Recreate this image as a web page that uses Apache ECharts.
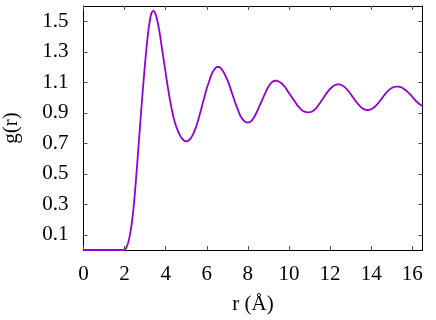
<!DOCTYPE html>
<html>
<head>
<meta charset="utf-8">
<script src="https://cdn.jsdelivr.net/npm/echarts@6/dist/echarts.min.js"></script>
<style>html,body{margin:0;padding:0;background:#fff}#c{width:436px;height:320px}</style>
</head>
<body>
<div id="c"></div>
<script>
var rValues = [0, 1.9, 2.0, 2.1, 2.2, 2.3, 2.4, 2.5, 2.6, 2.7, 2.8, 2.9, 3.0, 3.1, 3.2, 3.3, 3.4, 3.5, 3.6, 3.7, 3.8, 3.9,
  4.0, 4.1, 4.2, 4.3, 4.4, 4.5, 4.6, 4.7, 4.8, 4.9, 5.0, 5.1, 5.2, 5.3, 5.4, 5.5, 5.6, 5.7, 5.8, 5.9,
  6.0, 6.1, 6.2, 6.3, 6.4, 6.5, 6.6, 6.7, 6.8, 6.9, 7.0, 7.1, 7.2, 7.3, 7.4, 7.5, 7.6, 7.7, 7.8, 7.9,
  8.0, 8.1, 8.2, 8.3, 8.4, 8.5, 8.6, 8.7, 8.8, 8.9, 9.0, 9.1, 9.2, 9.3, 9.4, 9.5, 9.6, 9.7, 9.8, 9.9,
  10.0, 10.1, 10.2, 10.3, 10.4, 10.5, 10.6, 10.7, 10.8, 10.9, 11.0, 11.1, 11.2, 11.3, 11.4, 11.5, 11.6, 11.7, 11.8, 11.9,
  12.0, 12.1, 12.2, 12.3, 12.4, 12.5, 12.6, 12.7, 12.8, 12.9, 13.0, 13.1, 13.2, 13.3, 13.4, 13.5, 13.6, 13.7, 13.8, 13.9,
  14.0, 14.1, 14.2, 14.3, 14.4, 14.5, 14.6, 14.7, 14.8, 14.9, 15.0, 15.1, 15.2, 15.3, 15.4, 15.5, 15.6, 15.7, 15.8, 15.9,
  16.0, 16.1, 16.2, 16.3, 16.4, 16.5];
var gValues = [0, 0, 0.0, 0.02, 0.06, 0.13, 0.23, 0.37, 0.54, 0.72, 0.90, 1.07, 1.23, 1.37, 1.48, 1.55, 1.57, 1.55, 1.50, 1.43, 1.34, 1.25,
  1.16, 1.07, 0.99, 0.92, 0.86, 0.815, 0.78, 0.75, 0.73, 0.717, 0.713, 0.717, 0.73, 0.75, 0.78, 0.815, 0.86, 0.91, 0.96, 1.01,
  1.06, 1.10, 1.14, 1.17, 1.19, 1.20, 1.20, 1.19, 1.17, 1.145, 1.115, 1.08, 1.04, 1.0, 0.96, 0.925, 0.89, 0.865, 0.848, 0.838,
  0.836, 0.84, 0.85, 0.87, 0.895, 0.925, 0.955, 0.985, 1.015, 1.045, 1.07, 1.09, 1.103, 1.11, 1.11, 1.105, 1.097, 1.085, 1.07, 1.05,
  1.03, 1.01, 0.99, 0.97, 0.95, 0.935, 0.92, 0.91, 0.905, 0.903, 0.903, 0.907, 0.915, 0.927, 0.943, 0.962, 0.982, 1.002, 1.022, 1.04,
  1.056, 1.069, 1.079, 1.085, 1.087, 1.085, 1.079, 1.07, 1.057, 1.041, 1.023, 1.004, 0.985, 0.967, 0.951, 0.937, 0.927, 0.92, 0.918, 0.919,
  0.923, 0.931, 0.942, 0.956, 0.972, 0.99, 1.008, 1.025, 1.04, 1.053, 1.062, 1.068, 1.071, 1.071, 1.069, 1.064, 1.056, 1.046, 1.034, 1.02,
  1.005, 0.99, 0.975, 0.962, 0.952, 0.944];
var xTicks = [0, 2, 4, 6, 8, 10, 12, 14, 16];
var yTicks = [0.1, 0.3, 0.5, 0.7, 0.9, 1.1, 1.3, 1.5];
var xTitle = 'r (Å)';
var yTitle = 'g(r)';

var data = rValues.map(function (r, i) { return [r, gValues[i]]; });
var font = 'Liberation Serif';
var lineStyle = { color: '#000', width: 1 };
function xAx(pos, show) {
  return {
    type: 'value', position: pos, min: 0, max: 16.5,
    axisLine: { show: true, onZero: false, lineStyle: lineStyle },
    axisTick: { show: true, inside: true, length: 4, customValues: xTicks, lineStyle: { color: '#555' } },
    axisLabel: { show: show, customValues: xTicks, color: '#000', fontFamily: font, fontSize: 21, margin: 14 },
    splitLine: { show: false },
    name: show ? xTitle : '', nameLocation: 'middle', nameGap: 44,
    nameTextStyle: { color: '#000', fontFamily: font, fontSize: 21 }
  };
}
function yAx(pos, show) {
  return {
    type: 'value', position: pos, min: 0, max: 1.6,
    axisLine: { show: true, onZero: false, lineStyle: lineStyle },
    axisTick: { show: true, inside: true, length: 4, customValues: yTicks, lineStyle: { color: '#555' } },
    axisLabel: { show: show, customValues: yTicks, color: '#000', fontFamily: font, fontSize: 21, margin: 15,
      formatter: function (v) { return v.toFixed(1); } },
    splitLine: { show: false },
    name: show ? yTitle : '', nameLocation: 'middle', nameGap: 62, nameRotate: 90,
    nameTextStyle: { color: '#000', fontFamily: font, fontSize: 21 }
  };
}
var chart = echarts.init(document.getElementById('c'), null, { renderer: 'canvas' });
chart.setOption({
  animation: false,
  backgroundColor: '#fff',
  grid: { left: 83.5, right: 13.5, top: 6, bottom: 70, containLabel: false, outerBoundsMode: 'none' },
  xAxis: [xAx('bottom', true), xAx('top', false)],
  yAxis: [yAx('left', true), yAx('right', false)],
  series: [{
    type: 'line', data: data, xAxisIndex: 0, yAxisIndex: 0,
    showSymbol: false, smooth: 0.2,
    lineStyle: { color: '#9400d3', width: 1.8 }
  }]
});
</script>
</body>
</html>
